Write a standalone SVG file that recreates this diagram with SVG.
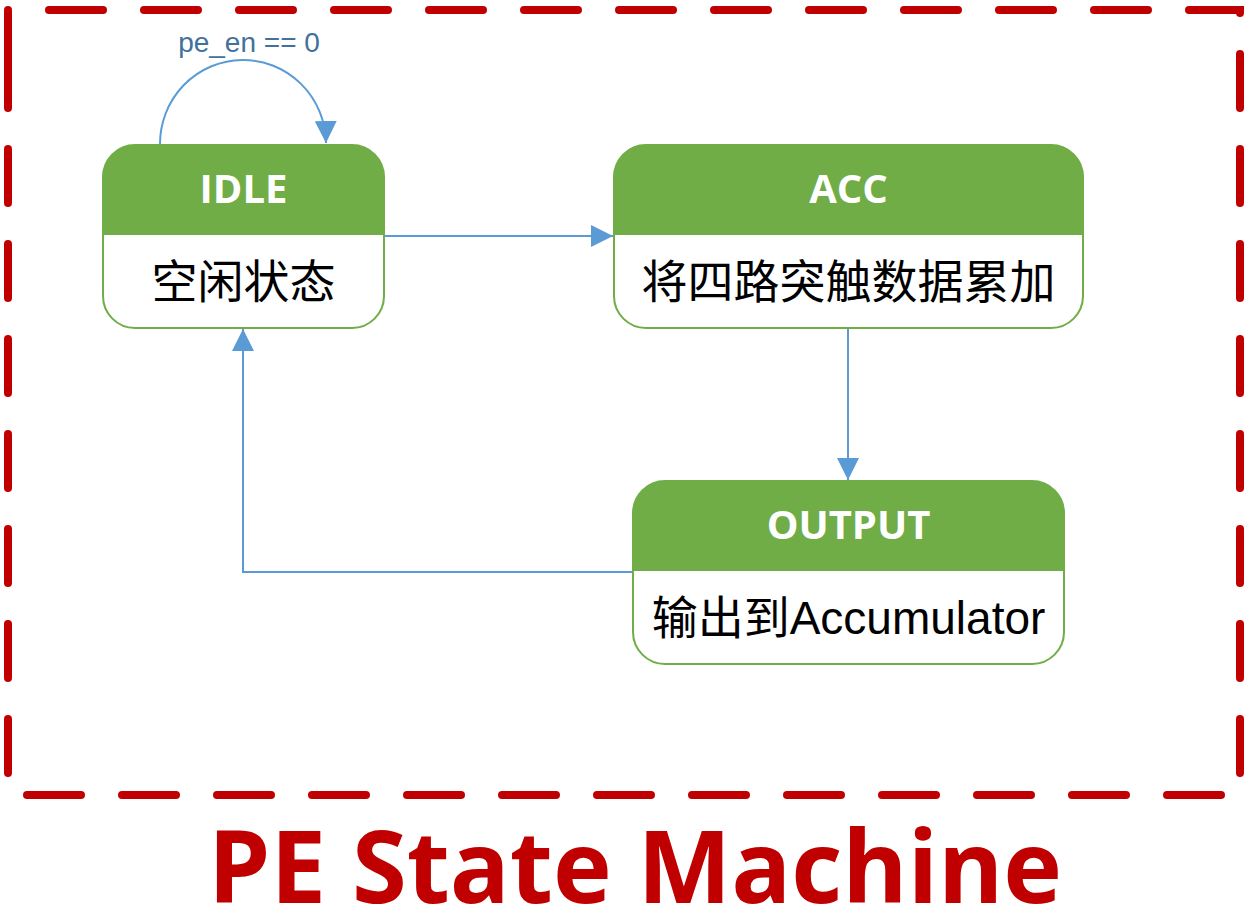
<svg xmlns="http://www.w3.org/2000/svg" width="1249" height="916" viewBox="0 0 1249 916">
<style>
.frame{fill:none;stroke:#C00000;stroke-width:8;stroke-linecap:round;stroke-dasharray:54 41}
.box{fill:#fff;stroke:#70AD47;stroke-width:2}
.hdr{fill:#70AD47}
.title{font-family:"Open Sans","Liberation Sans",sans-serif;font-weight:bold;font-size:40px;fill:#fff;text-anchor:middle}
.body{font-family:"Liberation Sans","Noto Sans CJK SC",sans-serif;font-size:46px;fill:#000;text-anchor:middle}
.conn{fill:none;stroke:#5B9BD5;stroke-width:2}
.lbl{font-family:"Liberation Sans",sans-serif;font-size:28px;fill:#41719C;text-anchor:middle}
.big{font-family:"Open Sans","Liberation Sans",sans-serif;font-weight:bold;font-size:100px;fill:#C00000}
</style>
<defs>
<marker id="arr" viewBox="0 0 10 10" refX="10" refY="5" markerWidth="22" markerHeight="22" markerUnits="userSpaceOnUse" orient="auto">
<path d="M0,0 L10,5 L0,10 z" fill="#5B9BD5"/>
</marker>
</defs>
<rect width="1249" height="916" fill="#fff"/>
<path class="frame" d="M8,64 L8,10 L1240,10 L1240,795 L8,795 Z"/>
<g id="connectors">
<path class="conn" d="M160,145 A83,84 0 0 1 326,143" marker-end="url(#arr)"/>
<path class="conn" d="M384,236 L613,236" marker-end="url(#arr)"/>
<path class="conn" d="M848,328 L848,480" marker-end="url(#arr)"/>
<path class="conn" d="M633,572 L243,572 L243,329" marker-end="url(#arr)"/>
<text class="lbl" x="249" y="52">pe_en == 0</text>
</g>
<g id="IDLE">
<rect class="box" x="103" y="145" width="281" height="183" rx="32"/>
<path class="hdr" d="M103,235 L103,177 A32,32 0 0 1 135,145 L352,145 A32,32 0 0 1 384,177 L384,235 Z"/>
<text class="title" x="243.500" y="203">IDLE</text>
<text class="body" x="243.500" y="298">空闲状态</text>
</g>
<g id="ACC">
<rect class="box" x="614" y="145" width="469" height="183" rx="32"/>
<path class="hdr" d="M614,235 L614,177 A32,32 0 0 1 646,145 L1051,145 A32,32 0 0 1 1083,177 L1083,235 Z"/>
<text class="title" x="848.500" y="203">ACC</text>
<text class="body" x="848.500" y="298">将四路突触数据累加</text>
</g>
<g id="OUTPUT">
<rect class="box" x="633" y="481" width="431" height="183" rx="32"/>
<path class="hdr" d="M633,571 L633,513 A32,32 0 0 1 665,481 L1032,481 A32,32 0 0 1 1064,513 L1064,571 Z"/>
<text class="title" x="848.500" y="539">OUTPUT</text>
<text class="body" x="848.500" y="634">输出到Accumulator</text>
</g>
<text class="big" x="208" y="903" textLength="854" lengthAdjust="spacingAndGlyphs">PE State Machine</text>
</svg>
